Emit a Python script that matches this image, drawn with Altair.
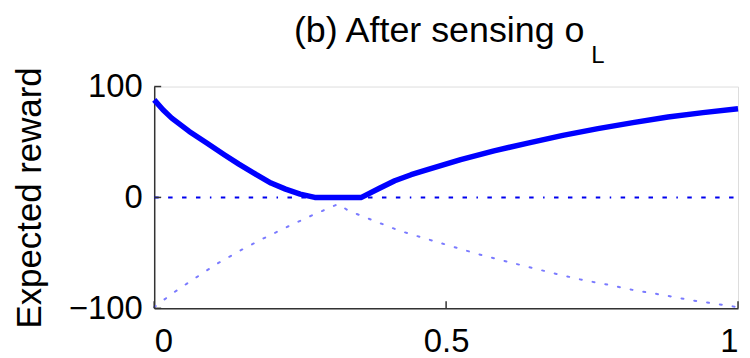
import altair as alt
import pandas as pd

# ---- data ----
solid_x = [0.0, 0.015, 0.03, 0.06, 0.09, 0.12, 0.145, 0.175, 0.2, 0.225, 0.25, 0.275,
           0.355, 0.385, 0.412, 0.44, 0.468, 0.525, 0.582, 0.64, 0.70, 0.76, 0.82,
           0.88, 0.94, 1.0]
solid_y = [88, 79, 71.5, 59.5, 49, 38.5, 30, 20.5, 13, 7.5, 3, 0,
           0, 8, 15, 20.5, 25, 34, 42, 49, 56, 62, 67.5,
           72.5, 76.5, 80]

dotted_x = [0.0, 0.03, 0.068, 0.107, 0.147, 0.187, 0.23, 0.271, 0.315,
            0.333, 0.376, 0.42, 0.464, 0.509, 0.554, 0.598, 0.643, 0.689,
            0.734, 0.78, 0.825, 0.872, 0.917, 0.963, 1.0]
dotted_y = [-99, -87, -73.5, -60, -48, -37, -26, -16, -6,
            -12, -21, -30, -37, -44, -51, -57, -63, -69,
            -74.5, -79, -84, -88, -92.5, -96, -99]

zero_x = [0.0, 1.0]
zero_y = [0, 0]

x_ticks = [0, 0.5, 1]
y_ticks = [-100, 0, 100]

title_main = "(b) After sensing o"
title_sub = "L"
y_title = "Expected reward"

FONT = "Liberation Sans"
W, H = 587, 223

solid = pd.DataFrame({"x": solid_x, "y": solid_y})
dotted = pd.DataFrame({"x": dotted_x, "y": dotted_y})
zero = pd.DataFrame({"x": zero_x, "y": zero_y})

xs = alt.Scale(domain=[0, 1], nice=False, zero=False)
ys = alt.Scale(domain=[-100, 100], nice=False, zero=False)

x_axis = alt.Axis(values=x_ticks, ticks=False, tickSize=0, grid=False, title=None,
                  labelFont=FONT, labelFontSize=33, labelColor="black",
                  labelPadding=17, domainColor="#333333", domainWidth=1.5,
                  labelExpr="datum.value == 0 ? '0' : datum.value == 1 ? '1' : '0.5'")
y_axis = alt.Axis(values=y_ticks, ticks=False, tickSize=0, grid=False, title=y_title,
                  labelFont=FONT, labelFontSize=33, labelColor="black",
                  labelPadding=12, domainColor="#333333", domainWidth=1.5,
                  titleFont=FONT, titleFontSize=35, titleFontWeight="normal",
                  titleColor="black", titlePadding=21, format="d")

base_dotted = alt.Chart(dotted).mark_line(
    color="#7a7aff", strokeWidth=2, strokeDash=[2, 11], strokeCap="round"
).encode(x=alt.X("x:Q", scale=xs, axis=x_axis), y=alt.Y("y:Q", scale=ys, axis=y_axis))

zero_line = alt.Chart(zero).mark_line(
    color="#0000ee", strokeWidth=2,
    strokeDash=[4.5, 9.5, 4.5, 9.5, 4.5, 9.5, 4.5, 9.5, 1.5, 9.5]
).encode(x=alt.X("x:Q", scale=xs), y=alt.Y("y:Q", scale=ys))

solid_line = alt.Chart(solid).mark_line(
    color="#0000ff", strokeWidth=5.5, strokeJoin="round"
).encode(x=alt.X("x:Q", scale=xs), y=alt.Y("y:Q", scale=ys))

xt = alt.Chart(pd.DataFrame({"t": x_ticks})).mark_rule(
    color="#333333", strokeWidth=1.5
).encode(x=alt.X("t:Q", scale=xs), y=alt.value(H), y2=alt.value(H - 7))

yt = alt.Chart(pd.DataFrame({"t": y_ticks})).mark_rule(
    color="#333333", strokeWidth=1.5
).encode(y=alt.Y("t:Q", scale=ys), x=alt.value(0), x2=alt.value(7))

t_main = alt.Chart(pd.DataFrame({"t": [title_main]})).mark_text(
    font=FONT, fontSize=36, color="black", align="center", baseline="alphabetic"
).encode(text="t:N", x=alt.value(W / 2 - 7), y=alt.value(-45))

t_sub = alt.Chart(pd.DataFrame({"t": [title_sub]})).mark_text(
    font=FONT, fontSize=24, color="black", align="left", baseline="alphabetic"
).encode(text="t:N", x=alt.value(W / 2 + 146), y=alt.value(-24))

chart = alt.layer(base_dotted, zero_line, solid_line, xt, yt, t_main, t_sub).properties(
    width=W, height=H,
    padding={"left": 4, "top": 4, "right": 0, "bottom": 0},
).configure_view(stroke=None).configure(background="white")

chart.save("out.html", embed_options={"renderer": "svg", "actions": False})
